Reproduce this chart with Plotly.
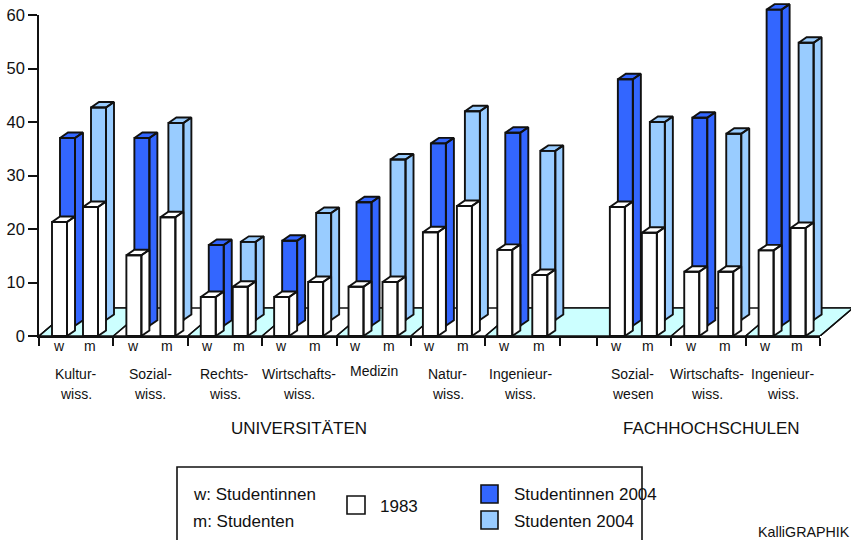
import plotly.graph_objects as go

# ---- data ----
group_slots = [0, 1, 2, 3, 4, 5, 6, 7.5, 8.5, 9.5]
group_line1 = ["Kultur-", "Sozial-", "Rechts-", "Wirtschafts-", "Medizin", "Natur-", "Ingenieur-", "Sozial-", "Wirtschafts-", "Ingenieur-"]
group_line2 = ["wiss.", "wiss.", "wiss.", "wiss.", "", "wiss.", "wiss.", "wesen", "wiss.", "wiss."]
women_1983 = [21.3, 15.1, 7.3, 7.3, 9.2, 19.4, 16.1, 24.1, 12.0, 16.0]
men_1983 = [24.1, 22.2, 9.2, 10.1, 10.1, 24.3, 11.4, 19.3, 12.0, 20.2]
women_2004 = [37.0, 37.0, 17.0, 17.8, 25.0, 36.0, 38.0, 48.0, 40.8, 61.0]
men_2004 = [42.7, 39.8, 17.6, 23.0, 33.0, 42.0, 34.6, 40.0, 37.8, 54.8]
y_ticks = [0, 10, 20, 30, 40, 50, 60]
x_ticks = [0, 1, 2, 3, 4, 5, 6, 7, 7.5, 8.5, 9.5, 10.5]
floor_runs = [(0, 1), (2, 3), (4, 5), (6, 8.5), (9.5, 10.5)]

# ---- layout constants ----
W, H = 851, 540
L, R, T, B = 39, 820, 15, 336
PX_X = (R - L) / 10.5
PX_Y = (B - T) / 60
W_OFF = [13, 13, 13, 12, 12, 12, 12, 13, 13, 13]
M_OFF = [44, 47, 45, 46, 46, 46, 47, 45, 47, 45]
LABEL_NUDGE = [0, 0, 0, 0, 0, 0, -2, -1, -1, 0]
BAR_W = 15
DX, DY = 8, 5.5
REAR_DX = 8
BLUE_BASE, LIGHT_BASE = 1.9, 3.0
BLUE, LIGHT, AQUA = "#3366FF", "#99CCFF", "#CCFFFF"
INK = "#111111"
FONT = "Liberation Sans, Arial, sans-serif"


def sx(px):
    return px / PX_X


def sy(px):
    return px / PX_Y


def bar_polys(left_px, width_px, base, value):
    """Front, side and top polygons of a 3D bar in axis units."""
    x0, x1 = left_px / PX_X, (left_px + width_px) / PX_X
    dx, dy = sx(DX), sy(DY)
    xs, ys = [], []
    for px, py in (
        ([x1, x1 + dx, x1 + dx, x1, x1], [base, base + dy, value + dy, value, base]),
        ([x0, x1, x1 + dx, x0 + dx, x0], [value, value, value + dy, value + dy, value]),
        ([x0, x1, x1, x0, x0], [base, base, value, value, base]),
    ):
        xs += px + [None]
        ys += py + [None]
    return xs, ys


def series(values, offsets, base, color, name, shift=0):
    xs, ys = [], []
    for slot, off, v in zip(group_slots, offsets, values):
        a, b = bar_polys(slot * PX_X + off + shift, BAR_W, base, v)
        xs += a
        ys += b
    return go.Scatter(x=xs, y=ys, mode="lines", fill="toself", fillcolor=color, name=name,
                      line=dict(color=INK, width=1.9), hoverinfo="skip", showlegend=False)


fig = go.Figure()

# floor
FD_X, FD_Y = sx(33), sy(28)
fx, fy = [], []
for a, b in floor_runs:
    fx += [a, a + FD_X, b + FD_X, b, a, None]
    fy += [0, FD_Y, FD_Y, 0, 0, None]
gx, gy = [], []
for t in x_ticks:
    if t in (7, 7.5):
        continue
    gx += [t, t + FD_X, None]
    gy += [0, FD_Y, None]
fig.add_trace(go.Scatter(x=[0, FD_X, 10.5 + FD_X, 10.5, 0], y=[0, FD_Y, FD_Y, 0, 0], mode="lines",
                         fill="toself", fillcolor="white", line=dict(color=INK, width=1.4),
                         hoverinfo="skip", showlegend=False))
fig.add_trace(go.Scatter(x=fx, y=fy, mode="lines", fill="toself", fillcolor=AQUA,
                         line=dict(color=INK, width=1.4), hoverinfo="skip", showlegend=False))
fig.add_trace(go.Scatter(x=gx, y=gy, mode="lines", line=dict(color=INK, width=1.4),
                         hoverinfo="skip", showlegend=False))

# bars, back row first
fig.add_trace(series(women_2004, W_OFF, BLUE_BASE, BLUE, "Studentinnen 2004", REAR_DX))
fig.add_trace(series(men_2004, M_OFF, LIGHT_BASE, LIGHT, "Studenten 2004", REAR_DX))
fig.add_trace(series(women_1983, W_OFF, 0, "white", "1983 w"))
fig.add_trace(series(men_1983, M_OFF, 0, "white", "1983 m"))

# empty trace so the visible axes are drawn
fig.add_trace(go.Scatter(x=[None], y=[None], xaxis="x2", yaxis="y2", mode="lines",
                         hoverinfo="skip", showlegend=False))


def px_x(px):
    return px / W


def px_y(py):
    return (B - py) / B


def text(px, py, s, size=14, anchor="center"):
    fig.add_annotation(x=px_x(px), y=px_y(py), xref="paper", yref="paper", text=s, showarrow=False,
                       xanchor=anchor, yanchor="middle", font=dict(family=FONT, size=size, color=INK),
                       borderpad=0, xshift=0)


def rect(x0, y0, x1, y1, fill):
    fig.add_shape(type="rect", xref="paper", yref="paper", x0=px_x(x0), x1=px_x(x1), y0=px_y(y0), y1=px_y(y1),
                  fillcolor=fill, line=dict(color=INK, width=1.6))


# w / m labels and group names
for i, slot in enumerate(group_slots):
    base = L + slot * PX_X
    text(base + W_OFF[i] + BAR_W / 2 - 1, 346, "w", 14)
    text(base + M_OFF[i] + BAR_W / 2 - 1, 346, "m", 14)
    center = base + 37 + LABEL_NUDGE[i]
    if group_line2[i]:
        text(center, 374, group_line1[i], 14)
        text(center, 394, group_line2[i], 14)
    else:
        text(center, 371, group_line1[i], 14)

text(299, 428, "UNIVERSITÄTEN", 17)
text(711, 428, "FACHHOCHSCHULEN", 17)

# legend box
rect(177, 467, 642, 560, "white")
rect(347, 496, 365, 514, "white")
rect(481, 485, 498, 503, BLUE)
rect(481, 511, 498, 529, LIGHT)
text(192, 495, "w: Studentinnen", 17, "left")
text(192, 521, "m: Studenten", 17, "left")
text(379, 506, "1983", 17, "left")
text(513, 495, "Studentinnen 2004", 17, "left")
text(513, 521, "Studenten 2004", 17, "left")
text(851, 532, "KalliGRAPHIK", 14.3, "right")

fig.update_layout(
    width=W, height=H, autosize=False,
    margin=dict(l=0, r=0, t=0, b=H - B, pad=0),
    paper_bgcolor="white", plot_bgcolor="rgba(0,0,0,0)", showlegend=False,
    # axes that carry the marks: pixel-wide, hidden, same scale as the visible axes
    xaxis=dict(range=[-L / PX_X, (W - L) / PX_X], visible=False, fixedrange=True),
    yaxis=dict(range=[0, B / PX_Y], visible=False, fixedrange=True),
    # visible axes
    xaxis2=dict(domain=[L / W, R / W], range=[0, 10.5], anchor="y2", tickmode="array", tickvals=x_ticks,
                showticklabels=False, ticks="outside", ticklen=8, tickwidth=1.5, tickcolor=INK, showline=True,
                linecolor=INK, linewidth=2, showgrid=False, zeroline=False, fixedrange=True, automargin=False),
    yaxis2=dict(domain=[0, (B - T) / B], range=[0, 60], anchor="x2", tickmode="array", tickvals=y_ticks,
                ticks="outside", ticklen=9, tickwidth=1.5, tickcolor=INK, showline=True, linecolor=INK,
                linewidth=1.5, showgrid=False, zeroline=False, fixedrange=True, automargin=False,
                tickfont=dict(family=FONT, size=16.5, color=INK)),
)
fig.write_html("out.html", config={"displayModeBar": False}, post_script="document.body.style.margin='0';")
